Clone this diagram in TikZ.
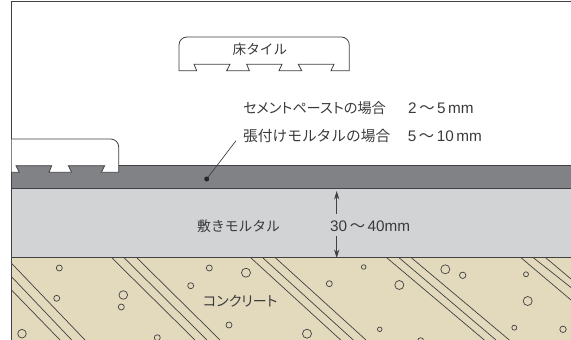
\documentclass[tikz,border=0pt]{standalone}
\usepackage{fontspec}
\usetikzlibrary{arrows.meta}
\setmainfont{Liberation Sans}
\newfontfamily\cjk{Noto Sans CJK JP}
\newfontfamily\cjkp[RawFeature=+palt]{Noto Sans CJK JP}
\definecolor{ink}{HTML}{414042}
\definecolor{txt}{HTML}{3A3A3C}
\definecolor{paste}{HTML}{808285}
\definecolor{mortar}{HTML}{D1D3D4}
\definecolor{conc}{HTML}{E3DABD}
\tikzset{
  edge/.style={draw=ink,line width=0.8pt},
  thin edge/.style={draw=ink,line width=0.7pt},
  pebble/.style={draw=ink,line width=0.7pt},
  tile/.style={draw=ink,line width=0.8pt,fill=white,line join=miter},
  lab/.style={inner sep=0pt,anchor=west,text=txt,font=\fontsize{13.6}{15}\selectfont},
  num/.style={lab,font=\fontsize{15.3}{17}\selectfont},
  dim/.style={draw=ink,line width=0.8pt,-{Stealth[length=8.5pt,width=5.2pt]}}
}
\begin{document}
\begin{tikzpicture}[x=1pt,y=-1pt]
\useasboundingbox (0,0) rectangle (571,340);
\begin{scope}
\clip (0,0) rectangle (571,340);
% layers
\fill[conc] (11.5,257.7) rectangle (571,340);
\fill[mortar] (11.5,188.7) rectangle (571,257.7);
\fill[paste] (11.5,165) rectangle (571,188.7);
% hatch
\foreach \a/\b/\c/\d in {
 11.5/263.3/85/340, 11.5/276.7/71.7/340, 11.5/290/60/340,
 111.7/257.7/195/340, 124/257.7/207/340, 136.7/257.7/220/340,
 250.7/257.7/340.7/340, 262.7/257.7/353.3/340, 275.3/257.7/366/340,
 386.7/257.7/484.3/340, 399/257.7/496/340, 411.3/257.7/509.3/340,
 521/257.7/571/300, 533.3/257.7/571/287.5, 545.7/257.7/571/279}
 \draw[thin edge] (\a,\b) -- (\c,\d);
% pebbles
\foreach \a/\b/\r in {
 59.3/268/3, 56.7/298.3/3, 123.3/295/4.3, 121.3/307/3, 22/333.7/4.3,
 209.3/268/3, 246/272.7/4.5, 190.7/285.7/3, 229/325/3, 157.3/337.7/3,
 363.7/267/2.3, 329.3/283.7/3, 399.3/285/4.5, 445.3/269.3/4.5, 379.7/329.3/2.3,
 307/333.7/4.5, 420.7/340.7/3, 462.7/275.3/3.2, 526/274.3/2.5, 527.7/301/4.5,
 514.3/327.7/2.5, 563/329.3/3.2}
 \draw[pebble] (\a,\b) circle[radius=\r];
% layer lines
\draw[edge] (118.7,165) -- (571,165);
\draw[edge] (11.5,188.7) -- (571,188.7);
\draw[edge] (11.5,257.7) -- (571,257.7);
% frame
\draw[draw=ink,line width=1pt] (11.5,340) -- (11.5,1.2) -- (571,1.2);
% tile on floor
\filldraw[tile] (11.5,139) -- (110.7,139) arc[start angle=90,end angle=0,x radius=8,y radius=-8] -- (118.7,172.3)
  -- (101.3,172.3) -- (104.7,165.7) -- (68.3,165.7) -- (71.7,172.3) -- (49,172.3)
  -- (51.7,165.7) -- (16,165.7) -- (19.3,172.3) -- (11.5,172.3);
% loose tile
\filldraw[tile] (179,70.7) -- (179,45) arc[start angle=180,end angle=90,x radius=8,y radius=-8]
  -- (341.3,37) arc[start angle=90,end angle=0,x radius=8,y radius=-8] -- (349.3,70.7)
  -- (331,70.7) -- (334,64.3) -- (298.3,64.3) -- (301.7,70.7) -- (279,70.7) -- (282,64.3)
  -- (246.7,64.3) -- (249.3,70.7) -- (226.7,70.7) -- (230,64.3) -- (194,64.3) -- (196.7,70.7) -- cycle;
\end{scope}
% labels
\node[lab] (tilelabel) at (232.5,49) {\cjk 床タイル};
\node[lab] (paste1) at (243,108) {\cjkp\fontsize{14.2}{15}\selectfont セメントペーストの場合};
\node[num] (paste1v) at (408,108) {2\,{\cjk 〜}\,5\,mm};
\node[lab] (paste2) at (243,136) {\cjk\fontsize{14.7}{15}\selectfont 張付けモルタルの場合};
\node[num] (paste2v) at (407.7,136) {5\,{\cjk 〜}\,10\,mm};
\node[lab] (bed) at (197,226) {\cjk\fontsize{13.8}{15}\selectfont 敷きモルタル};
\node[num] (bedv) at (330,226.7) {30\,{\cjk 〜}\,40mm};
\node[lab] (conclab) at (203,300.7) {\cjkp\fontsize{14}{15}\selectfont コンクリート};
% leader
\node[circle,fill=ink!60!black,inner sep=0pt,minimum size=5pt] (dot) at (206.7,179) {};
\coordinate (leaderend) at (236,140.7);
\draw[thin edge] (dot) -- (leaderend);
% dimension
\coordinate (up1) at (336.7,214);
\coordinate (up2) at (336.7,191);
\coordinate (dn1) at (336.7,236);
\coordinate (dn2) at (336.7,258);
\draw[dim] (up1) -- (up2);
\draw[dim] (dn1) -- (dn2);
\end{tikzpicture}
\end{document}
